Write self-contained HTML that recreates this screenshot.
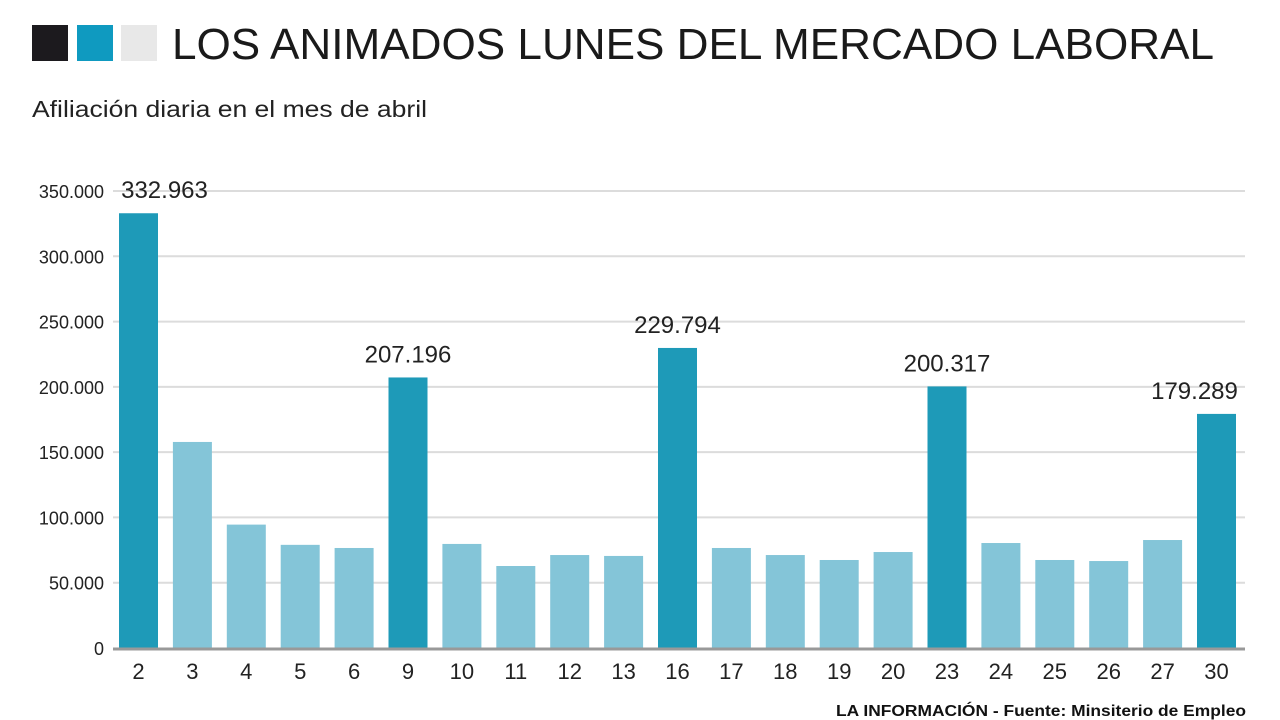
<!DOCTYPE html>
<html><head><meta charset="utf-8"><style>
body{margin:0;width:1280px;height:720px;background:#fff;overflow:hidden;font-family:"Liberation Sans",sans-serif}
svg{position:absolute;left:0;top:0}
</style></head><body>
<svg id="c" width="1280" height="720">
<rect x="32" y="25" width="36" height="36" fill="#1c1a1e"/>
<rect x="77" y="25" width="36" height="36" fill="#0f9ac0"/>
<rect x="121" y="25" width="36" height="36" fill="#e8e8e8"/>
<text x="172" y="59" font-size="44" fill="#1a1a1a" textLength="1042" lengthAdjust="spacingAndGlyphs">LOS ANIMADOS LUNES DEL MERCADO LABORAL</text>
<text x="32" y="117" font-size="23" fill="#222" textLength="395" lengthAdjust="spacingAndGlyphs">Afiliación diaria en el mes de abril</text>
<text x="1246" y="716" font-size="16" font-weight="bold" fill="#111" text-anchor="end" textLength="410" lengthAdjust="spacingAndGlyphs">LA INFORMACIÓN - Fuente: Minsiterio de Empleo</text>
<g id="grid"></g><g id="bars"></g>
</svg>
<script>
const categories=["2","3","4","5","6","9","10","11","12","13","16","17","18","19","20","23","24","25","26","27","30"];
const values=[332963,157800,94500,79000,76600,207196,79700,62800,71200,70500,229794,76600,71200,67400,73500,200317,80400,67400,66600,82700,179289];
const labels=["332.963",null,null,null,null,"207.196",null,null,null,null,"229.794",null,null,null,null,"200.317",null,null,null,null,"179.289"];
const yTicks=[0,50000,100000,150000,200000,250000,300000,350000];
const yTickLabels=["0","50.000","100.000","150.000","200.000","250.000","300.000","350.000"];
const NS="http://www.w3.org/2000/svg";
const y=v=>648-v*(457/350000);
const x=i=>119+i*53.9;
const g=document.getElementById('grid'),b=document.getElementById('bars');
function mk(t,a,p){const e=document.createElementNS(NS,t);for(const k in a)e.setAttribute(k,a[k]);p.appendChild(e);return e;}
yTicks.forEach((v,i)=>{
 if(v>0){const l=mk('line',{x1:113,x2:1245,y1:y(v),y2:y(v),stroke:'#dcdcdc','stroke-width':2},g);
 
 }
 const t=mk('text',{x:104,y:y(v)+7,'font-size':18,fill:'#222','text-anchor':'end'},g);t.textContent=yTickLabels[i];
 
 
});
categories.forEach((c,i)=>{
 const r=mk('rect',{x:x(i),y:y(values[i]),width:39,height:648-y(values[i]),fill:labels[i]?'#1e9ab8':'#84c5d8'},b);
 
 
 const t=mk('text',{x:x(i)+19.5,y:679,'font-size':22,fill:'#222','text-anchor':'middle'},b);t.textContent=c;
 
 
 if(labels[i]){const v=mk('text',{x:x(i)+19.5+(i==0?26:i==20?-22:0),y:y(values[i])-15,'font-size':24,fill:'#222','text-anchor':'middle'},b);v.textContent=labels[i];
 
 }
});
const ax=mk('line',{x1:113,x2:1245,y1:649,y2:649,stroke:'#999','stroke-width':3},b);


</script>
</body></html>
